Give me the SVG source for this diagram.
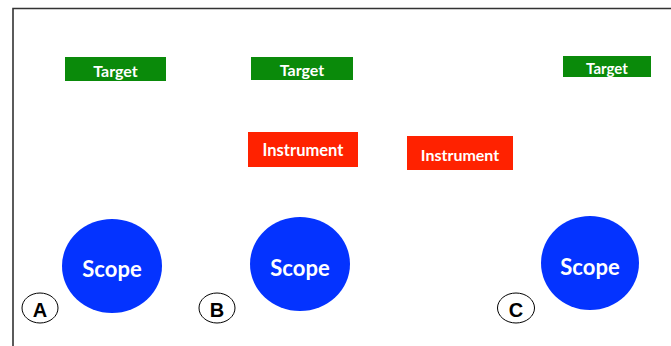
<svg xmlns="http://www.w3.org/2000/svg" width="671" height="346" viewBox="0 0 671 346">
<style>
.t{fill:#0a8a0a}
.i{fill:#ff2200}
.s{fill:#0433ff}
.lbl{font-family:Lato,"Open Sans",sans-serif;font-weight:bold;fill:#fff;text-anchor:middle;dominant-baseline:central}
.tag{fill:#fff;stroke:#000;stroke-width:1}
.tagt{font-family:"Liberation Sans",Arial,sans-serif;font-weight:bold;font-size:20px;fill:#000;text-anchor:middle;dominant-baseline:central}
</style>
<rect width="671" height="346" fill="#fff"/>
<path d="M13 346 V8.5 H671" fill="none" stroke="#333" stroke-width="1.6"/>
<g id="targetA"><rect class="t" x="65" y="57" width="101" height="24"/><text class="lbl" x="115.5" y="70" font-size="16">Target</text></g>
<g id="targetB"><rect class="t" x="251" y="57" width="102" height="23"/><text class="lbl" x="302" y="69.5" font-size="16">Target</text></g>
<g id="targetC"><rect class="t" x="563" y="56" width="88" height="21"/><text class="lbl" x="607" y="67.5" font-size="15">Target</text></g>
<g id="instrumentB"><rect class="i" x="248" y="132" width="110" height="35"/><text class="lbl" x="303" y="150" font-size="16.5">Instrument</text></g>
<g id="instrumentC"><rect class="i" x="407" y="136" width="106" height="34"/><text class="lbl" x="460" y="154" font-size="16">Instrument</text></g>
<g id="scopeA"><ellipse class="s" cx="112" cy="266" rx="50" ry="47"/><text class="lbl" x="112" y="268" font-size="22">Scope</text></g>
<g id="scopeB"><ellipse class="s" cx="300" cy="264" rx="50" ry="47"/><text class="lbl" x="300" y="267" font-size="22">Scope</text></g>
<g id="scopeC"><ellipse class="s" cx="590" cy="263" rx="49" ry="47"/><text class="lbl" x="590" y="266" font-size="22">Scope</text></g>
<g id="labelA"><ellipse class="tag" cx="40" cy="308" rx="18" ry="15"/><text class="tagt" x="40" y="310">A</text></g>
<g id="labelB"><ellipse class="tag" cx="217" cy="308" rx="18" ry="15"/><text class="tagt" x="217" y="310">B</text></g>
<g id="labelC"><ellipse class="tag" cx="516" cy="308" rx="18.5" ry="15"/><text class="tagt" x="516" y="310">C</text></g>
<g id="connectors"/>
</svg>
